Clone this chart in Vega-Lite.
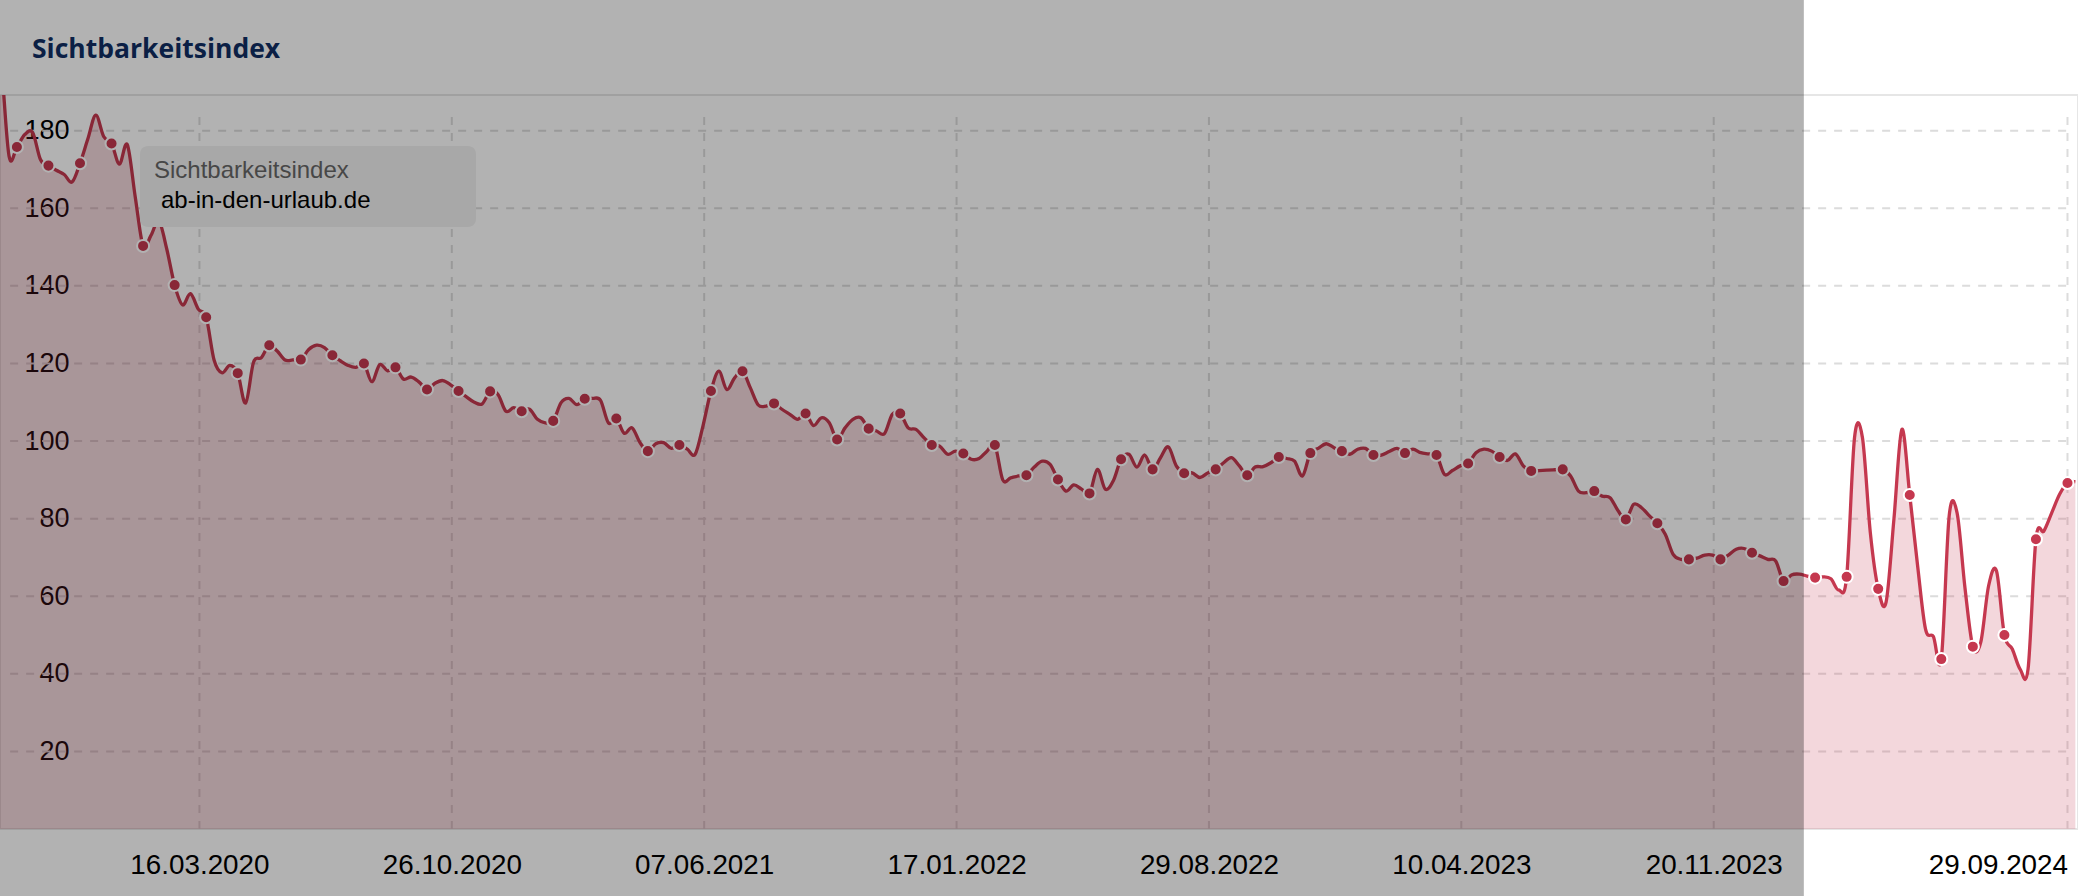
{
  "$schema": "https://vega.github.io/schema/vega-lite/v6.json",
  "width": 2078,
  "height": 734,
  "autosize": {"type": "none"},
  "padding": {"left": 0, "top": 95, "right": 0, "bottom": 67},
  "background": "#ffffff",
  "config": {
    "view": {"stroke": "#e6e6e6", "strokeWidth": 2},
    "font": "Liberation Sans"
  },
  "title": {
    "text": "Sichtbarkeitsindex",
    "anchor": "start",
    "frame": "group",
    "dx": 32,
    "offset": -85,
    "baseline": "alphabetic",
    "font": "Open Sans",
    "fontSize": 26.5,
    "fontWeight": "bold",
    "color": "#0b1f45"
  },
  "datasets": {
    "visibility": [
      {"date": "2019-09-15", "value": 215},
      {"date": "2019-09-22", "value": 198},
      {"date": "2019-09-29", "value": 173.5},
      {"date": "2019-10-06", "value": 175.8},
      {"date": "2019-10-13", "value": 179},
      {"date": "2019-10-20", "value": 179.5},
      {"date": "2019-10-27", "value": 172.5},
      {"date": "2019-11-03", "value": 171.0},
      {"date": "2019-11-10", "value": 169.8},
      {"date": "2019-11-17", "value": 168.7},
      {"date": "2019-11-24", "value": 166.8},
      {"date": "2019-12-01", "value": 171.6},
      {"date": "2019-12-08", "value": 177.9},
      {"date": "2019-12-15", "value": 184},
      {"date": "2019-12-22", "value": 178.5},
      {"date": "2019-12-29", "value": 176.7},
      {"date": "2020-01-05", "value": 171.4},
      {"date": "2020-01-12", "value": 176.4},
      {"date": "2020-01-19", "value": 163},
      {"date": "2020-01-26", "value": 150.3},
      {"date": "2020-02-02", "value": 153.0},
      {"date": "2020-02-09", "value": 156.7},
      {"date": "2020-02-16", "value": 149.5},
      {"date": "2020-02-23", "value": 140.2},
      {"date": "2020-03-01", "value": 135.1},
      {"date": "2020-03-08", "value": 138.0},
      {"date": "2020-03-15", "value": 134},
      {"date": "2020-03-22", "value": 131.9},
      {"date": "2020-03-29", "value": 120.9},
      {"date": "2020-04-05", "value": 117.6},
      {"date": "2020-04-12", "value": 119.5},
      {"date": "2020-04-19", "value": 117.5},
      {"date": "2020-04-26", "value": 109.8},
      {"date": "2020-05-03", "value": 120.3},
      {"date": "2020-05-10", "value": 121.5},
      {"date": "2020-05-17", "value": 124.7},
      {"date": "2020-05-24", "value": 123.2},
      {"date": "2020-05-31", "value": 120.9},
      {"date": "2020-06-07", "value": 120.9},
      {"date": "2020-06-14", "value": 121.0},
      {"date": "2020-06-21", "value": 123.6},
      {"date": "2020-06-28", "value": 124.7},
      {"date": "2020-07-05", "value": 124.1},
      {"date": "2020-07-12", "value": 122.1},
      {"date": "2020-07-19", "value": 120.7},
      {"date": "2020-07-26", "value": 119.5},
      {"date": "2020-08-02", "value": 119.0},
      {"date": "2020-08-09", "value": 120.0},
      {"date": "2020-08-16", "value": 115.3},
      {"date": "2020-08-23", "value": 119.7},
      {"date": "2020-08-30", "value": 118.1},
      {"date": "2020-09-06", "value": 119.0},
      {"date": "2020-09-13", "value": 116.0},
      {"date": "2020-09-20", "value": 116.5},
      {"date": "2020-09-27", "value": 115.2},
      {"date": "2020-10-04", "value": 113.3},
      {"date": "2020-10-11", "value": 114.9},
      {"date": "2020-10-18", "value": 115.6},
      {"date": "2020-10-25", "value": 114.5},
      {"date": "2020-11-01", "value": 112.9},
      {"date": "2020-11-08", "value": 111.4},
      {"date": "2020-11-15", "value": 110.0},
      {"date": "2020-11-22", "value": 109.6},
      {"date": "2020-11-29", "value": 112.8},
      {"date": "2020-12-06", "value": 112.0},
      {"date": "2020-12-13", "value": 107.7},
      {"date": "2020-12-20", "value": 108.6},
      {"date": "2020-12-27", "value": 107.7},
      {"date": "2021-01-03", "value": 108.2},
      {"date": "2021-01-10", "value": 105.6},
      {"date": "2021-01-17", "value": 104.7},
      {"date": "2021-01-24", "value": 105.2},
      {"date": "2021-01-31", "value": 109.9},
      {"date": "2021-02-07", "value": 111.0},
      {"date": "2021-02-14", "value": 109.4},
      {"date": "2021-02-21", "value": 110.9},
      {"date": "2021-02-28", "value": 111.0},
      {"date": "2021-03-07", "value": 110.5},
      {"date": "2021-03-14", "value": 104.7},
      {"date": "2021-03-21", "value": 105.8},
      {"date": "2021-03-28", "value": 102.0},
      {"date": "2021-04-04", "value": 103.4},
      {"date": "2021-04-11", "value": 99.6},
      {"date": "2021-04-18", "value": 97.4},
      {"date": "2021-04-25", "value": 99.3},
      {"date": "2021-05-02", "value": 99.6},
      {"date": "2021-05-09", "value": 98.1},
      {"date": "2021-05-16", "value": 99.0},
      {"date": "2021-05-23", "value": 97.9},
      {"date": "2021-05-30", "value": 96.6},
      {"date": "2021-06-06", "value": 104},
      {"date": "2021-06-13", "value": 112.9},
      {"date": "2021-06-20", "value": 118.0},
      {"date": "2021-06-27", "value": 113.3},
      {"date": "2021-07-04", "value": 116.3},
      {"date": "2021-07-11", "value": 118.0},
      {"date": "2021-07-18", "value": 113.7},
      {"date": "2021-07-25", "value": 109.3},
      {"date": "2021-08-01", "value": 109.0},
      {"date": "2021-08-08", "value": 109.7},
      {"date": "2021-08-15", "value": 108.2},
      {"date": "2021-08-22", "value": 106.9},
      {"date": "2021-08-29", "value": 105.6},
      {"date": "2021-09-05", "value": 107.1},
      {"date": "2021-09-12", "value": 104.0},
      {"date": "2021-09-19", "value": 106.0},
      {"date": "2021-09-26", "value": 104.7},
      {"date": "2021-10-03", "value": 100.4},
      {"date": "2021-10-10", "value": 103.4},
      {"date": "2021-10-17", "value": 105.6},
      {"date": "2021-10-24", "value": 106.0},
      {"date": "2021-10-31", "value": 103.2},
      {"date": "2021-11-07", "value": 102.6},
      {"date": "2021-11-14", "value": 101.9},
      {"date": "2021-11-21", "value": 106.9},
      {"date": "2021-11-28", "value": 107.1},
      {"date": "2021-12-05", "value": 103.4},
      {"date": "2021-12-12", "value": 103.0},
      {"date": "2021-12-19", "value": 100.9},
      {"date": "2021-12-26", "value": 99.0},
      {"date": "2022-01-02", "value": 98.7},
      {"date": "2022-01-09", "value": 96.6},
      {"date": "2022-01-16", "value": 97.4},
      {"date": "2022-01-23", "value": 96.8},
      {"date": "2022-01-30", "value": 95.3},
      {"date": "2022-02-06", "value": 95.5},
      {"date": "2022-02-13", "value": 97.4},
      {"date": "2022-02-20", "value": 99.0},
      {"date": "2022-02-27", "value": 90.0},
      {"date": "2022-03-06", "value": 90.5},
      {"date": "2022-03-13", "value": 91.0},
      {"date": "2022-03-20", "value": 91.2},
      {"date": "2022-03-27", "value": 93.3},
      {"date": "2022-04-03", "value": 94.8},
      {"date": "2022-04-10", "value": 94.0},
      {"date": "2022-04-17", "value": 90.1},
      {"date": "2022-04-24", "value": 87.1},
      {"date": "2022-05-01", "value": 88.7},
      {"date": "2022-05-08", "value": 87.6},
      {"date": "2022-05-15", "value": 86.5},
      {"date": "2022-05-22", "value": 92.7},
      {"date": "2022-05-29", "value": 87.6},
      {"date": "2022-06-05", "value": 89.7},
      {"date": "2022-06-12", "value": 95.3},
      {"date": "2022-06-19", "value": 96.6},
      {"date": "2022-06-26", "value": 93.3},
      {"date": "2022-07-03", "value": 96.4},
      {"date": "2022-07-10", "value": 92.7},
      {"date": "2022-07-17", "value": 95.7},
      {"date": "2022-07-24", "value": 98.5},
      {"date": "2022-07-31", "value": 93.6},
      {"date": "2022-08-07", "value": 91.7},
      {"date": "2022-08-14", "value": 91.8},
      {"date": "2022-08-21", "value": 90.6},
      {"date": "2022-08-28", "value": 91.8},
      {"date": "2022-09-04", "value": 92.7},
      {"date": "2022-09-11", "value": 94.4},
      {"date": "2022-09-18", "value": 95.7},
      {"date": "2022-09-25", "value": 93.6},
      {"date": "2022-10-02", "value": 91.2},
      {"date": "2022-10-09", "value": 93.3},
      {"date": "2022-10-16", "value": 93.4},
      {"date": "2022-10-23", "value": 94.4},
      {"date": "2022-10-30", "value": 95.9},
      {"date": "2022-11-06", "value": 95.5},
      {"date": "2022-11-13", "value": 94.8},
      {"date": "2022-11-20", "value": 91.0},
      {"date": "2022-11-27", "value": 96.9},
      {"date": "2022-12-04", "value": 98.1},
      {"date": "2022-12-11", "value": 99.3},
      {"date": "2022-12-18", "value": 98.3},
      {"date": "2022-12-25", "value": 97.4},
      {"date": "2023-01-01", "value": 96.6},
      {"date": "2023-01-08", "value": 97.9},
      {"date": "2023-01-15", "value": 98.1},
      {"date": "2023-01-22", "value": 96.4},
      {"date": "2023-01-29", "value": 96.4},
      {"date": "2023-02-05", "value": 97.3},
      {"date": "2023-02-12", "value": 98.1},
      {"date": "2023-02-19", "value": 96.9},
      {"date": "2023-02-26", "value": 97.9},
      {"date": "2023-03-05", "value": 97.0},
      {"date": "2023-03-12", "value": 96.7},
      {"date": "2023-03-19", "value": 96.4},
      {"date": "2023-03-26", "value": 91.4},
      {"date": "2023-04-02", "value": 92.4},
      {"date": "2023-04-09", "value": 93.6},
      {"date": "2023-04-16", "value": 94.2},
      {"date": "2023-04-23", "value": 97.0},
      {"date": "2023-04-30", "value": 97.9},
      {"date": "2023-05-07", "value": 97.4},
      {"date": "2023-05-14", "value": 95.9},
      {"date": "2023-05-21", "value": 95.0},
      {"date": "2023-05-28", "value": 96.7},
      {"date": "2023-06-04", "value": 93.6},
      {"date": "2023-06-11", "value": 92.3},
      {"date": "2023-06-18", "value": 92.4},
      {"date": "2023-06-25", "value": 92.5},
      {"date": "2023-07-02", "value": 92.6},
      {"date": "2023-07-09", "value": 92.7},
      {"date": "2023-07-16", "value": 91.0},
      {"date": "2023-07-23", "value": 87.1},
      {"date": "2023-07-30", "value": 86.7},
      {"date": "2023-08-06", "value": 87.1},
      {"date": "2023-08-13", "value": 85.8},
      {"date": "2023-08-20", "value": 85.4},
      {"date": "2023-08-27", "value": 82.1},
      {"date": "2023-09-03", "value": 79.8},
      {"date": "2023-09-10", "value": 83.7},
      {"date": "2023-09-17", "value": 82.8},
      {"date": "2023-09-24", "value": 80.7},
      {"date": "2023-10-01", "value": 78.8},
      {"date": "2023-10-08", "value": 76.0},
      {"date": "2023-10-15", "value": 70.8},
      {"date": "2023-10-22", "value": 69.5},
      {"date": "2023-10-29", "value": 69.5},
      {"date": "2023-11-05", "value": 69.8},
      {"date": "2023-11-12", "value": 70.6},
      {"date": "2023-11-19", "value": 70.6},
      {"date": "2023-11-26", "value": 69.5},
      {"date": "2023-12-03", "value": 70.6},
      {"date": "2023-12-10", "value": 72.1},
      {"date": "2023-12-17", "value": 72.3},
      {"date": "2023-12-24", "value": 71.2},
      {"date": "2023-12-31", "value": 70.4},
      {"date": "2024-01-07", "value": 69.5},
      {"date": "2024-01-14", "value": 69.1},
      {"date": "2024-01-21", "value": 63.9},
      {"date": "2024-01-28", "value": 65.5},
      {"date": "2024-02-04", "value": 65.7},
      {"date": "2024-02-11", "value": 65.2},
      {"date": "2024-02-18", "value": 64.8},
      {"date": "2024-02-25", "value": 65.0},
      {"date": "2024-03-03", "value": 64.5},
      {"date": "2024-03-10", "value": 61.6},
      {"date": "2024-03-17", "value": 65.0},
      {"date": "2024-03-24", "value": 100.9},
      {"date": "2024-03-31", "value": 100.9},
      {"date": "2024-04-07", "value": 76.4},
      {"date": "2024-04-14", "value": 61.9},
      {"date": "2024-04-21", "value": 58.5},
      {"date": "2024-04-28", "value": 80},
      {"date": "2024-05-05", "value": 103},
      {"date": "2024-05-12", "value": 86.1},
      {"date": "2024-05-19", "value": 67.8},
      {"date": "2024-05-26", "value": 51.5},
      {"date": "2024-06-02", "value": 49.6},
      {"date": "2024-06-09", "value": 43.8},
      {"date": "2024-06-16", "value": 80.7},
      {"date": "2024-06-23", "value": 81.5},
      {"date": "2024-06-30", "value": 62.2},
      {"date": "2024-07-07", "value": 47.0},
      {"date": "2024-07-14", "value": 48.1},
      {"date": "2024-07-21", "value": 62.7},
      {"date": "2024-07-28", "value": 66.5},
      {"date": "2024-08-04", "value": 50.0},
      {"date": "2024-08-11", "value": 46.4},
      {"date": "2024-08-18", "value": 41.2},
      {"date": "2024-08-25", "value": 41.2},
      {"date": "2024-09-01", "value": 74.7},
      {"date": "2024-09-08", "value": 76.8},
      {"date": "2024-09-15", "value": 81.5},
      {"date": "2024-09-22", "value": 86.3},
      {"date": "2024-09-29", "value": 89.2},
      {"date": "2024-10-06", "value": 89.5}
    ],
    "gridY": [
      {"v": 20}, {"v": 40}, {"v": 60}, {"v": 80}, {"v": 100},
      {"v": 120}, {"v": 140}, {"v": 160}, {"v": 180}
    ],
    "ticks": [
      {"date": "2020-03-16"}, {"date": "2020-10-26"}, {"date": "2021-06-07"},
      {"date": "2022-01-17"}, {"date": "2022-08-29"}, {"date": "2023-04-10"},
      {"date": "2023-11-20"}, {"date": "2024-09-29"}
    ]
  },
  "layer": [
    {
      "data": {"name": "ticks"},
      "mark": {"type": "rule", "color": "#dcdcdc", "strokeWidth": 2, "strokeDash": [8, 8]},
      "encoding": {
        "x": {"field": "date", "type": "temporal"},
        "y": {"datum": 0, "type": "quantitative"},
        "y2": {"datum": 183.5}
      }
    },
    {
      "data": {"name": "gridY"},
      "mark": {"type": "rule", "color": "#dcdcdc", "strokeWidth": 2, "strokeDash": [8, 8]},
      "encoding": {
        "y": {"field": "v", "type": "quantitative"},
        "x": {"datum": {"year": 2019, "month": 9, "date": 30, "utc": true}, "type": "temporal"},
        "x2": {"datum": {"year": 2024, "month": 9, "date": 29, "utc": true}}
      }
    },
    {
      "data": {"name": "visibility"},
      "mark": {"type": "area", "interpolate": "cardinal", "color": "#c5384f", "opacity": 0.2, "clip": true},
      "encoding": {
        "x": {"field": "date", "type": "temporal"},
        "y": {"field": "value", "type": "quantitative"}
      }
    },
    {
      "data": {"name": "visibility"},
      "mark": {"type": "line", "interpolate": "cardinal", "strokeWidth": 3.3, "clip": true},
      "encoding": {
        "x": {
          "field": "date",
          "type": "temporal",
          "scale": {
            "type": "utc",
            "domain": [
              {"year": 2019, "month": 9, "date": 21, "utc": true},
              {"year": 2024, "month": 10, "date": 8, "hours": 8, "utc": true}
            ],
            "nice": false
          },
          "axis": {
            "title": null,
            "values": [
              {"year": 2020, "month": 3, "date": 16, "utc": true},
              {"year": 2020, "month": 10, "date": 26, "utc": true},
              {"year": 2021, "month": 6, "date": 7, "utc": true},
              {"year": 2022, "month": 1, "date": 17, "utc": true},
              {"year": 2022, "month": 8, "date": 29, "utc": true},
              {"year": 2023, "month": 4, "date": 10, "utc": true},
              {"year": 2023, "month": 11, "date": 20, "utc": true},
              {"year": 2024, "month": 9, "date": 29, "utc": true}
            ],
            "format": "%d.%m.%Y",
            "domain": false,
            "ticks": false,
            "grid": false,
            "labelFont": "Liberation Sans",
            "labelFontSize": 27.8,
            "labelColor": "#000000",
            "labelPadding": 22,
            "labelFlush": 15,
            "labelOverlap": false,
            "labelBound": false,
            "zindex": 0
          }
        },
        "y": {
          "field": "value",
          "type": "quantitative",
          "scale": {"domain": [0, 189.2], "nice": false, "zero": false},
          "axis": {
            "title": null,
            "values": [20, 40, 60, 80, 100, 120, 140, 160, 180],
            "domain": false,
            "ticks": false,
            "grid": false,
            "labelFont": "Liberation Sans",
            "labelFontSize": 27,
            "labelColor": "#000000",
            "labelAlign": "right",
            "labelBaseline": "middle",
            "labelPadding": -69,
            "labelFlush": false,
            "labelOverlap": false,
            "zindex": 0
          }
        },
        "color": {
          "datum": "ab-in-den-urlaub.de",
          "scale": {"range": ["#c5384f"]},
          "legend": {
            "orient": "none",
            "legendX": 140,
            "legendY": 51,
            "title": "Sichtbarkeitsindex",
            "titleFont": "Liberation Sans",
            "titleFontSize": 24,
            "titleFontWeight": "normal",
            "titleColor": "#474747",
            "titleBaseline": "line-top",
            "titleLineHeight": 22,
            "titlePadding": 5,
            "titleLimit": 400,
            "labelFont": "Liberation Sans",
            "labelFontSize": 24,
            "labelColor": "#000000",
            "labelLimit": 400,
            "labelOffset": -312,
            "symbolType": "circle",
            "symbolSize": 1,
            "symbolOpacity": 0,
            "symbolStrokeWidth": 0,
            "symbolOffset": 295,
            "fillColor": "#a8a8a8",
            "cornerRadius": 8,
            "padding": 14
          }
        }
      }
    },
    {
      "data": {"name": "visibility"},
      "transform": [
        {"filter": "round((toDate(datum.date) - utc(2019, 9, 6)) / 86400000) % 28 == 0"}
      ],
      "mark": {"type": "circle", "size": 145, "color": "#c5384f", "opacity": 1, "stroke": "#ffffff", "strokeWidth": 2, "clip": true},
      "encoding": {
        "x": {"field": "date", "type": "temporal"},
        "y": {"field": "value", "type": "quantitative"}
      }
    },
    {
      "data": {"values": [{}]},
      "mark": {"type": "rect", "color": "#000000", "opacity": 0.3},
      "encoding": {
        "x": {"datum": {"year": 2019, "month": 8, "date": 1, "utc": true}, "type": "temporal"},
        "x2": {"datum": {"year": 2024, "month": 2, "date": 8, "utc": true}},
        "y": {"datum": -17.3, "type": "quantitative"},
        "y2": {"datum": 213.7}
      }
    }
  ]
}
